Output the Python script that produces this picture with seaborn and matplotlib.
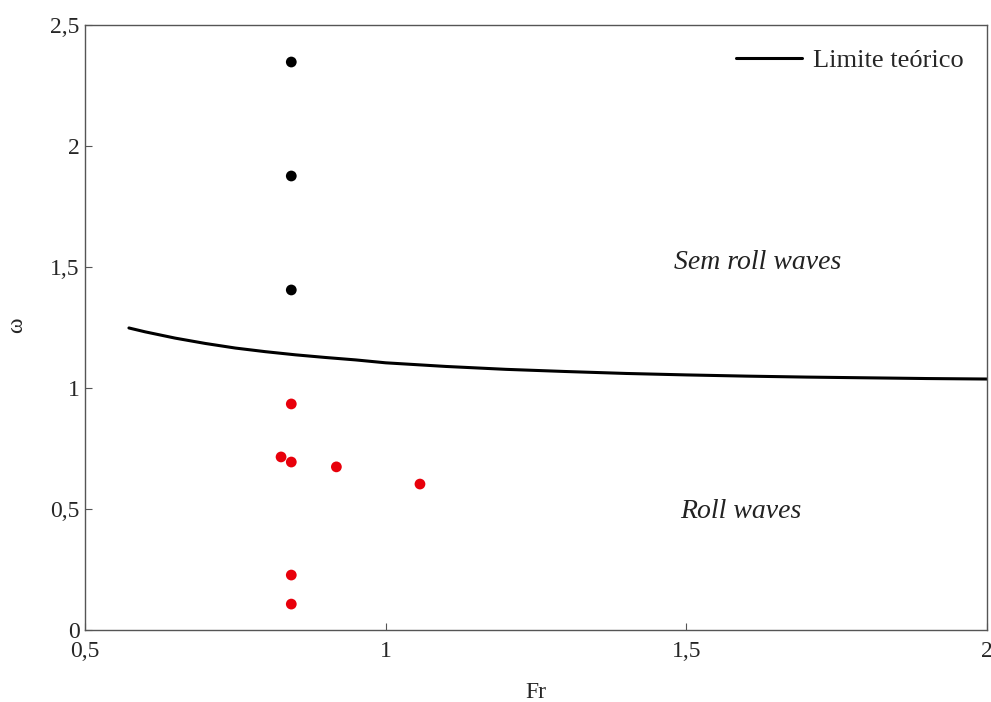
import numpy as np
import pandas as pd
import matplotlib
matplotlib.use("Agg")
import matplotlib.pyplot as plt
import seaborn as sns

# theoretical limit curve
curve_fr = [0.573, 0.60, 0.65, 0.70, 0.75, 0.80, 0.85, 0.90, 0.95, 1.0,
            1.1, 1.2, 1.3, 1.4, 1.5, 1.6, 1.7, 1.8, 1.9, 2.0]
curve_w = [1.248, 1.232, 1.206, 1.184, 1.165, 1.150, 1.137, 1.126, 1.116, 1.104,
           1.089, 1.077, 1.068, 1.060, 1.054, 1.049, 1.045, 1.042, 1.039, 1.037]

# experiments without roll waves (black)
fr_stable = [0.843, 0.843, 0.843]
w_stable = [2.347, 1.876, 1.405]

# experiments with roll waves (red)
fr_roll = [0.843, 0.826, 0.843, 0.918, 1.057, 0.843, 0.843]
w_roll = [0.934, 0.715, 0.694, 0.674, 0.603, 0.227, 0.107]

xticks = [0.5, 1, 1.5, 2]
xtick_labels = ["0,5", "1", "1,5", "2"]
yticks = [0, 0.5, 1, 1.5, 2, 2.5]
ytick_labels = ["0", "0,5", "1", "1,5", "2", "2,5"]

sns.set_style("ticks")
plt.rcParams['font.family'] = ['Liberation Serif', 'DejaVu Serif']
plt.rcParams['xtick.direction'] = 'in'
plt.rcParams['ytick.direction'] = 'in'

fig = plt.figure(figsize=(9.91, 7.02), dpi=100)
ax = fig.add_axes([0.0858, 0.1026, 0.9102, 0.8618])

df_curve = pd.DataFrame({"Fr": curve_fr, "w": curve_w})
sns.lineplot(data=df_curve, x="Fr", y="w", color="black", linewidth=2.2,
             label="Limite teórico", ax=ax)
sns.scatterplot(x=fr_stable, y=w_stable, color="black", s=60, edgecolor="none", ax=ax)
sns.scatterplot(x=fr_roll, y=w_roll, color="#e8000b", s=60, edgecolor="none", ax=ax)

ax.text(1.48, 1.52, "Sem roll waves", fontsize=20, style="italic", va="center", color="#222222")
ax.text(1.49, 0.488, "Roll waves", fontsize=20, style="italic", va="center", color="#222222")

ax.set_xlim(0.5, 2)
ax.set_ylim(0, 2.5)
ax.set_xticks(xticks)
ax.set_xticklabels(xtick_labels, fontsize=17)
ax.set_yticks(yticks)
ax.set_yticklabels(ytick_labels, fontsize=17)
ax.tick_params(axis="x", length=5, width=0.8, color="#555555", pad=8)
ax.tick_params(axis="y", length=5, width=0.8, color="#555555", pad=4)
for sp in ax.spines.values():
    sp.set_visible(True)
    sp.set_color("#555555")
    sp.set_linewidth(1.0)

ax.set_xlabel("Fr", fontsize=17, labelpad=14)
ax.set_ylabel("ω", fontsize=17, va="center")
ax.yaxis.set_label_coords(-0.076, 0.504)

leg = ax.legend(loc="upper right", frameon=False, fontsize=19, handlelength=2.5,
                handletextpad=0.4, borderaxespad=0.5)

fig.savefig("out.png", dpi=100)
